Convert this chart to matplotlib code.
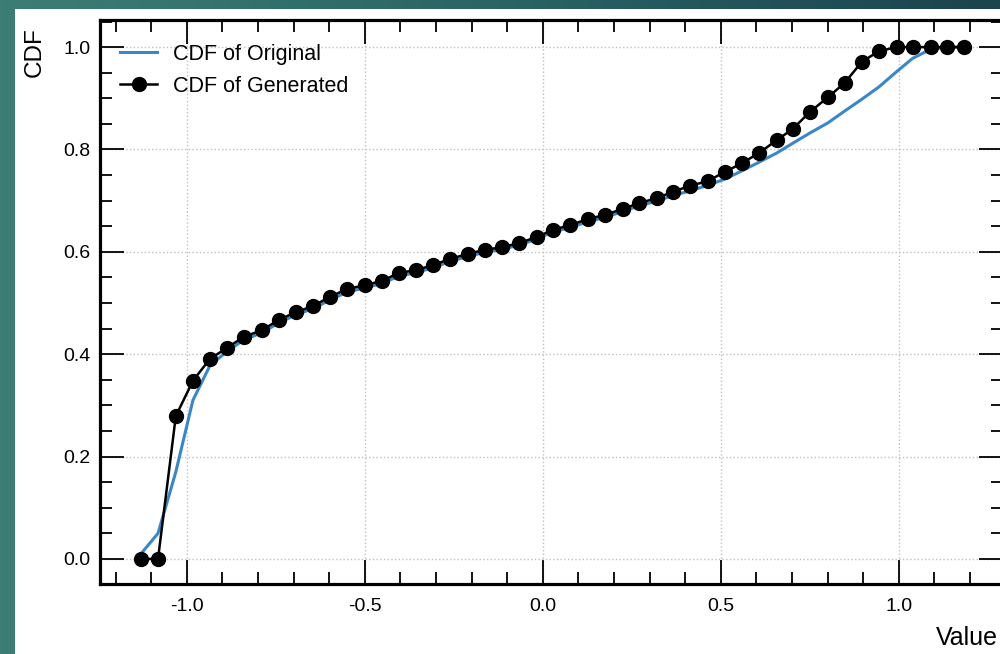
import numpy as np
import matplotlib
matplotlib.use("Agg")
import matplotlib.pyplot as plt
from matplotlib.patches import Rectangle
from matplotlib.colors import LinearSegmentedColormap
from matplotlib.ticker import MultipleLocator

plt.rcParams['font.family'] = ['Liberation Sans', 'DejaVu Sans']
plt.rcParams['axes.unicode_minus'] = False

# ---- data ----
x_values = [-1.129, -1.081, -1.031, -0.983, -0.935, -0.888, -0.840, -0.789, -0.742, -0.694,
            -0.646, -0.598, -0.551, -0.500, -0.452, -0.404, -0.357, -0.309, -0.261, -0.211,
            -0.163, -0.115, -0.067, -0.017, 0.028, 0.076, 0.126, 0.174, 0.225, 0.270,
            0.320, 0.365, 0.413, 0.463, 0.511, 0.559, 0.607, 0.657, 0.702, 0.750,
            0.801, 0.848, 0.896, 0.944, 0.994, 1.039, 1.090, 1.135, 1.183]

cdf_generated = [0.0, 0.0, 0.279, 0.348, 0.391, 0.412, 0.434, 0.447, 0.467, 0.482,
                 0.494, 0.512, 0.527, 0.535, 0.543, 0.559, 0.564, 0.574, 0.586, 0.596,
                 0.604, 0.609, 0.617, 0.629, 0.643, 0.652, 0.664, 0.672, 0.684, 0.695,
                 0.705, 0.717, 0.729, 0.738, 0.756, 0.773, 0.793, 0.818, 0.840, 0.873,
                 0.902, 0.930, 0.971, 0.992, 1.0, 1.0, 1.0, 1.0, 1.0]

cdf_original = [0.01, 0.05, 0.17, 0.31, 0.378, 0.405, 0.428, 0.442, 0.461, 0.477,
                0.489, 0.506, 0.521, 0.530, 0.538, 0.553, 0.559, 0.569, 0.581, 0.591,
                0.599, 0.605, 0.613, 0.625, 0.639, 0.647, 0.659, 0.667, 0.679, 0.690,
                0.699, 0.710, 0.719, 0.730, 0.742, 0.758, 0.775, 0.793, 0.812, 0.832,
                0.852, 0.875, 0.898, 0.922, 0.952, 0.978, 0.996, 1.0, 1.0]

label_original = "CDF of Original"
label_generated = "CDF of Generated"

# ---- figure ----
W, H = 1000, 654
fig = plt.figure(figsize=(W / 100, H / 100), dpi=100)

# teal slide background
bg = fig.add_axes([0, 0, 1, 1], zorder=-10)
cmap = LinearSegmentedColormap.from_list("teal", ["#3c7e76", "#2a6464", "#1b4350"])
grad = np.linspace(0, 1, 256).reshape(1, -1)
bg.imshow(grad, aspect='auto', cmap=cmap, extent=[0, 1, 0, 1])
bg.set_axis_off()

# white screenshot area
fig.patches.append(Rectangle((15 / W, 0), 1 - 15 / W, 1 - 9 / H,
                             transform=fig.transFigure, facecolor='white',
                             edgecolor='none', zorder=-5))

ax = fig.add_axes([100 / W, (H - 584) / H, 903 / W, 564 / H])
ax.set_facecolor('white')

ax.plot(x_values, cdf_original, color='#3a87c8', lw=2.2, label=label_original, zorder=3)
ax.plot(x_values, cdf_generated, color='black', lw=1.8, marker='o', markersize=10,
        label=label_generated, zorder=4)

ax.set_xlim(-1.244, 1.293)
ax.set_ylim(-0.049, 1.053)

ax.xaxis.set_major_locator(MultipleLocator(0.5))
ax.xaxis.set_minor_locator(MultipleLocator(0.1))
ax.yaxis.set_major_locator(MultipleLocator(0.2))
ax.yaxis.set_minor_locator(MultipleLocator(0.05))

ax.tick_params(which='both', direction='in', top=True, right=True, labelsize=14,
               width=1.3, colors='black')
ax.tick_params(which='major', length=17.5)
ax.tick_params(which='minor', length=8.5)
ax.tick_params(axis='x', which='major', pad=10)
ax.tick_params(axis='y', which='major', pad=7)
for s in ax.spines.values():
    s.set_linewidth(2.3)

ax.grid(True, which='major', linestyle=':', color='#c0c0c0', lw=1.0)

fig.text(35 / W, 1 - 27 / H, "CDF", rotation=90, ha='center', va='top', fontsize=17.5)
fig.text(998 / W, 1 - 645 / H, "Value", ha='right', va='baseline', fontsize=18)

leg = ax.legend(loc='upper left', frameon=False, fontsize=15.5, handlelength=1.72,
                handletextpad=0.74, labelspacing=0.5, borderpad=0, borderaxespad=0,
                bbox_to_anchor=(20 / 903, (584 - 44) / 564))

fig.savefig("out.png", dpi=100)
